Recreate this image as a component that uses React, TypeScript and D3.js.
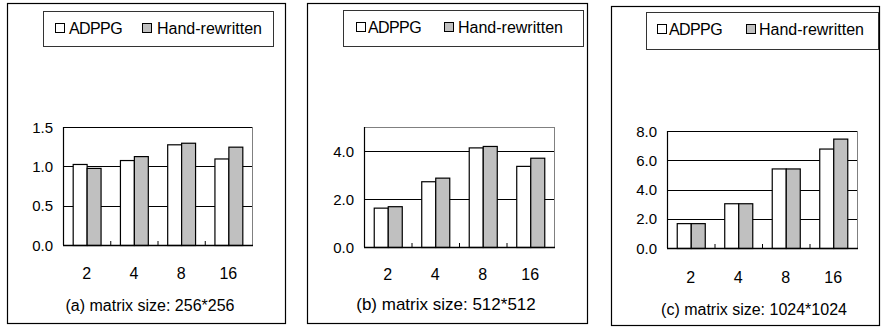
import React from "react";
import * as d3 from "d3";

const categories = ["2", "4", "8", "16"];
const seriesNames = ["ADPPG", "Hand-rewritten"];

const adppgA = [1.03, 1.08, 1.28, 1.1];
const handA = [0.98, 1.13, 1.3, 1.25];
const ticksA = [0, 0.5, 1.0, 1.5];
const maxA = 1.5;
const captionA = "(a) matrix size: 256*256";

const adppgB = [1.64, 2.74, 4.15, 3.38];
const handB = [1.7, 2.89, 4.21, 3.72];
const ticksB = [0, 2, 4];
const maxB = 5;
const captionB = "(b) matrix size: 512*512";

const adppgC = [1.7, 3.06, 5.44, 6.8];
const handC = [1.7, 3.06, 5.44, 7.48];
const ticksC = [0, 2, 4, 6, 8];
const maxC = 8;
const captionC = "(c) matrix size: 1024*1024";

const FONT = "'Liberation Sans', Arial, Helvetica, sans-serif";
const FILLS = ["#ffffff", "#c0c0c0"];

type Layout = {
  box: [number, number, number, number];
  legend: [number, number, number, number];
  plot: [number, number, number, number];
  xLabelY: number;
  captionX: number;
  captionY: number;
  captionSize: number;
  leg: [number, number, number, number];
};

const layouts: Layout[] = [
  { box: [7, 3, 285, 323], legend: [43, 11, 273, 46], plot: [63, 127, 252, 245], xLabelY: 279, captionX: 150, captionY: 311, captionSize: 16, leg: [55, 69, 142, 157] },
  { box: [307, 3, 587, 323], legend: [343, 10, 583, 46], plot: [364, 127, 554, 247], xLabelY: 280, captionX: 446, captionY: 310, captionSize: 17, leg: [356, 368, 444, 458] },
  { box: [611, 6, 879, 325], legend: [646, 12, 878, 49], plot: [667, 131, 857, 248], xLabelY: 283, captionX: 754, captionY: 315, captionSize: 16, leg: [657, 669, 746, 759] },
];

function Panel({ a, h, ticks, max, caption, L }: { a: number[]; h: number[]; ticks: number[]; max: number; caption: string; L: Layout }) {
  const [px0, py0, px1, py1] = L.plot;
  const x = d3.scaleBand<string>().domain(categories).range([px0, px1]).paddingInner(0.41).paddingOuter(0.205);
  const sub = d3.scaleBand<string>().domain(seriesNames).range([0, x.bandwidth()]);
  const y = d3.scaleLinear().domain([0, max]).range([py1, py0]);
  const series = [a, h];
  const fmt = d3.format(".1f");
  const step = x.step();
  const [bx0, by0, bx1, by1] = L.box;
  const [lx0, ly0, lx1, ly1] = L.legend;
  const symY = ly0 + 12;
  const txtY = ly0 + 23;
  return (
    <g>
      <rect x={bx0 + 0.5} y={by0 + 0.5} width={bx1 - bx0} height={by1 - by0} fill="#fff" stroke="#000" strokeWidth={1.2} />
      <rect x={lx0 + 0.5} y={ly0 + 0.5} width={lx1 - lx0} height={ly1 - ly0} fill="#fff" stroke="#333" strokeWidth={1} />
      <rect x={L.leg[0] + 0.5} y={symY + 0.5} width={9} height={9} fill={FILLS[0]} stroke="#000" />
      <text x={L.leg[1]} y={txtY} fontFamily={FONT} fontSize={16} letterSpacing={-0.6}>{seriesNames[0]}</text>
      <rect x={L.leg[2] + 0.5} y={symY + 0.5} width={9} height={9} fill={FILLS[1]} stroke="#000" />
      <text x={L.leg[3]} y={txtY} fontFamily={FONT} fontSize={16}>{seriesNames[1]}</text>

      <rect x={px0 + 0.5} y={py0 + 0.5} width={px1 - px0} height={py1 - py0} fill="#fff" stroke="#808080" strokeWidth={1} />
      {ticks.filter((t) => t > 0).map((t) => (
        <line key={t} x1={px0} x2={px1} y1={Math.round(y(t)) + 0.5} y2={Math.round(y(t)) + 0.5} stroke="#000" strokeWidth={1} />
      ))}
      {ticks.map((t) => (
        <text key={"l" + t} x={px0 - 10} y={y(t)} dy="0.38em" textAnchor="end" fontFamily={FONT} fontSize={15}>{fmt(t)}</text>
      ))}
      {categories.map((c, i) =>
        series.map((s, j) => (
          <rect key={c + j} x={(x(c) as number) + (sub(seriesNames[j]) as number) + 0.5} y={y(s[i]) + 0.5}
            width={sub.bandwidth()} height={py1 - y(s[i])} fill={FILLS[j]} stroke="#000" strokeWidth={1.2} />
        ))
      )}
      <line x1={px0 + 0.5} x2={px0 + 0.5} y1={py0} y2={py1} stroke="#000" strokeWidth={1.2} />
      <line x1={px0} x2={px1 + 1} y1={py1 + 0.5} y2={py1 + 0.5} stroke="#000" strokeWidth={1.5} />
      {categories.slice(1).map((c) => (
        <line key={"t" + c} x1={(x(c) as number) - (step - x.bandwidth()) / 2 + 0.5} x2={(x(c) as number) - (step - x.bandwidth()) / 2 + 0.5}
          y1={py1} y2={py1 - 4} stroke="#000" strokeWidth={1} />
      ))}
      {categories.map((c) => (
        <text key={"x" + c} x={(x(c) as number) + x.bandwidth() / 2} y={L.xLabelY} textAnchor="middle" fontFamily={FONT} fontSize={16}>{c}</text>
      ))}
      <text x={L.captionX} y={L.captionY} textAnchor="middle" fontFamily={FONT} fontSize={L.captionSize}>{caption}</text>
    </g>
  );
}

export default function App() {
  return (
    <svg width={881} height={327} style={{ position: "absolute", left: 0, top: 0, background: "#fff" }}>
      <rect width={881} height={327} fill="#fff" />
      <Panel a={adppgA} h={handA} ticks={ticksA} max={maxA} caption={captionA} L={layouts[0]} />
      <Panel a={adppgB} h={handB} ticks={ticksB} max={maxB} caption={captionB} L={layouts[1]} />
      <Panel a={adppgC} h={handC} ticks={ticksC} max={maxC} caption={captionC} L={layouts[2]} />
    </svg>
  );
}
